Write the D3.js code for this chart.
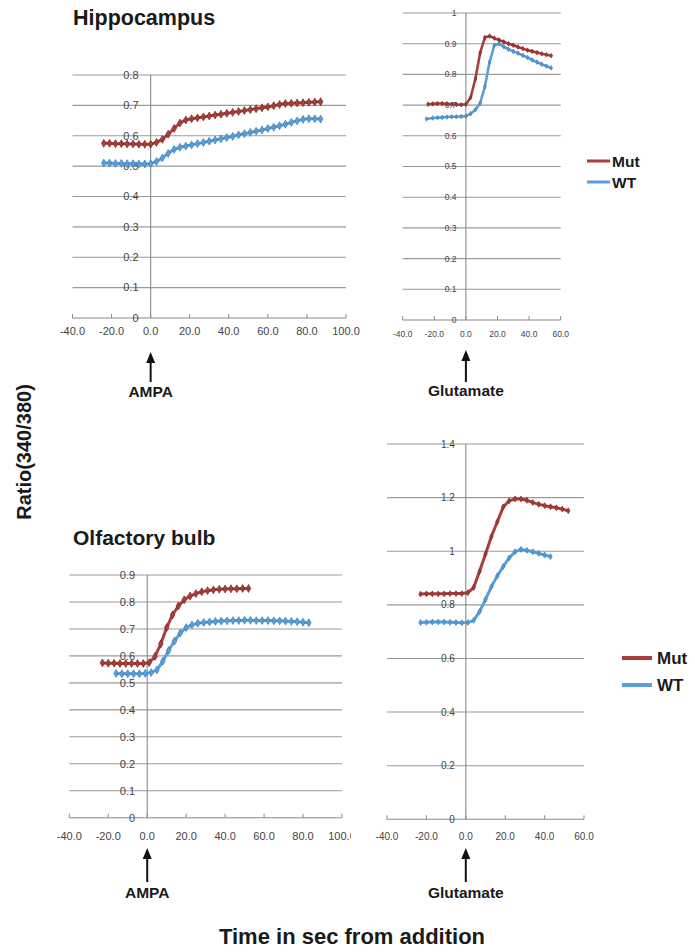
<!DOCTYPE html>
<html><head><meta charset="utf-8">
<script src="https://cdn.jsdelivr.net/npm/d3@7"></script>
<style>body{margin:0;background:#fff}svg{display:block}text{font-family:"Liberation Sans",Arial,sans-serif}</style>
</head><body>
<svg id="c" width="695" height="952"></svg>
<script>
// ---------- DATA ----------
const seriesNames = ["Mut", "WT"];

// Hippocampus, AMPA
const hippoAmpaMutT = [-24,-21,-18,-15,-12,-9,-6,-3,0,3,6,9,12,15,18,21,24,27,30,33,36,39,42,45,48,51,54,57,60,63,66,69,72,75,78,81,84,87];
const hippoAmpaMut  = [0.575,0.575,0.574,0.574,0.573,0.573,0.572,0.572,0.572,0.578,0.588,0.605,0.624,0.642,0.652,0.656,0.659,0.662,0.665,0.668,0.671,0.674,0.677,0.680,0.683,0.686,0.689,0.692,0.695,0.699,0.703,0.706,0.707,0.708,0.709,0.710,0.711,0.712];
const hippoAmpaWtT  = [-24,-21,-18,-15,-12,-9,-6,-3,0,3,6,9,12,15,18,21,24,27,30,33,36,39,42,45,48,51,54,57,60,63,66,69,72,75,78,81,84,87];
const hippoAmpaWt   = [0.510,0.510,0.509,0.509,0.508,0.508,0.507,0.507,0.508,0.515,0.527,0.542,0.555,0.562,0.566,0.570,0.574,0.578,0.582,0.586,0.590,0.594,0.598,0.603,0.607,0.611,0.615,0.619,0.624,0.628,0.633,0.638,0.644,0.649,0.654,0.656,0.656,0.655];

// Hippocampus, Glutamate
const hippoGluMutT = [-24,-21,-18,-15,-12,-9,-6,-3,0,3,6,9,12,15,18,21,24,27,30,33,36,39,42,45,48,51,54];
const hippoGluMut  = [0.703,0.704,0.705,0.705,0.704,0.703,0.702,0.701,0.703,0.725,0.785,0.870,0.920,0.925,0.918,0.912,0.906,0.900,0.895,0.889,0.884,0.879,0.875,0.871,0.867,0.864,0.861];
const hippoGluWtT  = [-25,-21,-18,-15,-12,-9,-6,-3,0,3,6,9,12,15,18,21,24,27,30,33,36,39,42,45,48,51,54];
const hippoGluWt   = [0.655,0.658,0.659,0.660,0.661,0.662,0.662,0.663,0.664,0.672,0.685,0.706,0.760,0.840,0.895,0.900,0.890,0.882,0.875,0.869,0.862,0.855,0.847,0.840,0.833,0.827,0.821];

// Olfactory bulb, AMPA
const obAmpaMutT = [-23,-20,-17,-14,-11,-8,-5,-2,1,4,7,10,13,16,19,22,25,28,31,34,37,40,43,46,49,52];
const obAmpaMut  = [0.574,0.573,0.573,0.572,0.572,0.572,0.572,0.572,0.575,0.598,0.645,0.705,0.752,0.785,0.808,0.822,0.831,0.838,0.842,0.845,0.847,0.848,0.849,0.849,0.850,0.850];
const obAmpaWtT  = [-16,-13,-10,-7,-4,-1,2,5,8,11,14,17,20,23,26,29,32,35,38,41,44,47,50,53,56,59,62,65,68,71,74,77,80,83];
const obAmpaWt   = [0.535,0.534,0.534,0.534,0.534,0.535,0.538,0.548,0.580,0.620,0.655,0.685,0.705,0.715,0.721,0.724,0.726,0.728,0.729,0.730,0.731,0.731,0.732,0.732,0.731,0.731,0.731,0.730,0.730,0.729,0.728,0.727,0.725,0.723];

// Olfactory bulb, Glutamate
const obGluMutT = [-23,-20,-17,-14,-11,-8,-5,-2,1,4,7,10,13,16,19,22,25,28,31,34,37,40,43,46,49,52];
const obGluMut  = [0.840,0.841,0.841,0.841,0.841,0.842,0.842,0.842,0.845,0.865,0.925,0.990,1.055,1.110,1.165,1.188,1.195,1.195,1.190,1.182,1.175,1.170,1.166,1.162,1.157,1.151];
const obGluWtT  = [-23,-20,-17,-14,-11,-8,-5,-2,1,4,7,10,13,16,19,22,25,28,31,34,37,40,43];
const obGluWt   = [0.734,0.735,0.736,0.736,0.736,0.735,0.734,0.733,0.734,0.742,0.775,0.820,0.868,0.908,0.943,0.975,0.998,1.007,1.003,0.998,0.992,0.986,0.980];

// tick labels
const xTicksAmpa = [-40,-20,0,20,40,60,80,100];
const xTicksGlu  = [-40,-20,0,20,40,60];
const yTicksHippoAmpa = [0,0.1,0.2,0.3,0.4,0.5,0.6,0.7,0.8];
const yTicksHippoGlu  = [0,0.1,0.2,0.3,0.4,0.5,0.6,0.7,0.8,0.9,1];
const yTicksObAmpa    = [0,0.1,0.2,0.3,0.4,0.5,0.6,0.7,0.8,0.9];
const yTicksObGlu     = [0,0.2,0.4,0.6,0.8,1,1.2,1.4];

const titles = ["Hippocampus", "Olfactory bulb"];
const stimuli = ["AMPA", "Glutamate"];
const yTitle = "Ratio(340/380)";
const xTitle = "Time in sec from addition";

// ---------- LAYOUT ----------
const colors = {Mut: "#a83f3b", WT: "#5b9fd8"};
const markerStroke = {Mut: "#7a2623", WT: "#3a7cb8"};
const svg = d3.select("#c");

const panels = [
  {xr:[72.5,346], yr:[318,75], xd:[-40,100], ymax:0.8, xt:xTicksAmpa, yt:yTicksHippoAmpa, fs:11, xlo:13, lw:3, ms:18,
   mut:[hippoAmpaMutT,hippoAmpaMut], wt:[hippoAmpaWtT,hippoAmpaWt], stim:stimuli[0], arrow:[352,382,397]},
  {xr:[402.7,560.7], yr:[320,13], xd:[-40,60], ymax:1, xt:xTicksGlu, yt:yTicksHippoGlu, fs:8.5, xlo:14, lw:2.6, ms:6,
   mut:[hippoGluMutT,hippoGluMut], wt:[hippoGluWtT,hippoGluWt], stim:stimuli[1], arrow:[350,382,396]},
  {xr:[69.3,342], yr:[817.7,575], xd:[-40,100], ymax:0.9, xt:xTicksAmpa, yt:yTicksObAmpa, fs:11, xlo:18, lw:3, ms:18, clip:351,
   mut:[obAmpaMutT,obAmpaMut], wt:[obAmpaWtT,obAmpaWt], stim:stimuli[0], arrow:[848,882,898]},
  {xr:[387,584], yr:[819.3,444], xd:[-40,60], ymax:1.4, xt:xTicksGlu, yt:yTicksObGlu, fs:10, xlo:17, lw:3, ms:10,
   mut:[obGluMutT,obGluMut], wt:[obGluWtT,obGluWt], stim:stimuli[1], arrow:[848,882,898]}
];

panels.forEach((p, i) => {
  const x = d3.scaleLinear().domain(p.xd).range(p.xr);
  const y = d3.scaleLinear().domain([0, p.ymax]).range(p.yr);
  const g = svg.append("g");
  // gridlines
  g.selectAll("line.grid").data(p.yt.filter(v => v > 0)).join("line")
    .attr("x1", x(p.xd[0])).attr("x2", x(p.xd[1]))
    .attr("y1", d => y(d)).attr("y2", d => y(d))
    .attr("stroke", "#9a9a9a").attr("stroke-width", 1.1);
  // x axis line
  g.append("line").attr("x1", x(p.xd[0])).attr("x2", x(p.xd[1]))
    .attr("y1", y(0)).attr("y2", y(0)).attr("stroke", "#8a8a8a").attr("stroke-width", 1.1);
  g.selectAll("line.xt").data(p.xt).join("line")
    .attr("x1", d => x(d)).attr("x2", d => x(d))
    .attr("y1", y(0) - 4).attr("y2", y(0)).attr("stroke", "#8a8a8a");
  // y axis (vertical at x=0)
  g.append("line").attr("x1", x(0)).attr("x2", x(0))
    .attr("y1", y(0)).attr("y2", y(p.ymax)).attr("stroke", "#8a8a8a").attr("stroke-width", 1.1);
  // y tick labels
  g.selectAll("text.yl").data(p.yt).join("text")
    .attr("x", x(0) - p.fs * 1.1).attr("y", d => y(d)).attr("dy", "0.35em")
    .attr("text-anchor", "end").attr("font-size", p.fs).attr("fill", "#444")
    .text(d => String(d));
  // x tick labels
  const xl = g.append("g");
  if (p.clip) {
    const id = "clip" + i;
    svg.append("clipPath").attr("id", id).append("rect")
      .attr("x", 0).attr("y", 0).attr("width", p.clip).attr("height", 952);
    xl.attr("clip-path", `url(#${id})`);
  }
  xl.selectAll("text").data(p.xt).join("text")
    .attr("x", d => x(d)).attr("y", y(0) + p.xlo).attr("dy", "0.35em")
    .attr("text-anchor", "middle").attr("font-size", p.fs).attr("fill", "#444")
    .text(d => d.toFixed(1));
  // series
  const line = d3.line().x(d => x(d[0])).y(d => y(d[1]));
  [["WT", p.wt], ["Mut", p.mut]].forEach(([name, [ts, vs]]) => {
    const pts = ts.map((t, k) => [t, vs[k]]);
    g.append("path").datum(pts).attr("d", line).attr("fill", "none")
      .attr("stroke", colors[name]).attr("stroke-width", p.lw).attr("stroke-linejoin", "round");
    g.selectAll(null).data(pts).join("path")
      .attr("transform", d => `translate(${x(d[0])},${y(d[1])})`)
      .attr("d", d3.symbol(d3.symbolDiamond, p.ms)())
      .attr("fill", colors[name]).attr("stroke", markerStroke[name]).attr("stroke-width", 0.7);
  });
  // stimulus arrow + label
  const ax = x(0);
  const [tip, bot, lab] = p.arrow;
  g.append("line").attr("x1", ax).attr("x2", ax).attr("y1", tip + 8).attr("y2", bot)
    .attr("stroke", "#111").attr("stroke-width", 2);
  g.append("path").attr("d", `M${ax},${tip} L${ax - 4.5},${tip + 11} L${ax + 4.5},${tip + 11} Z`).attr("fill", "#111");
  g.append("text").attr("x", ax).attr("y", lab).attr("text-anchor", "middle")
    .attr("font-size", 15.5).attr("font-weight", "bold").attr("fill", "#1a1a1a").text(p.stim);
});

// titles
svg.append("text").attr("x", 73).attr("y", 25).attr("font-size", 21.5).attr("font-weight", "bold").attr("fill", "#1a1a1a").text(titles[0]);
svg.append("text").attr("x", 73).attr("y", 545).attr("font-size", 21).attr("font-weight", "bold").attr("fill", "#1a1a1a").text(titles[1]);
svg.append("text").attr("transform", "translate(31,452) rotate(-90)").attr("text-anchor", "middle")
  .attr("font-size", 20).attr("font-weight", "bold").attr("fill", "#1a1a1a").text(yTitle);
svg.append("text").attr("x", 352).attr("y", 944).attr("text-anchor", "middle")
  .attr("font-size", 22).attr("font-weight", "bold").attr("fill", "#1a1a1a").text(xTitle);

// legends
const legends = [
  {x1:587, x2:610, tx:612, ys:[161,182], fs:15.5, lw:3},
  {x1:622, x2:652, tx:657, ys:[658,685], fs:17, lw:4}
];
legends.forEach(L => {
  seriesNames.forEach((n, k) => {
    svg.append("line").attr("x1", L.x1).attr("x2", L.x2).attr("y1", L.ys[k]).attr("y2", L.ys[k])
      .attr("stroke", colors[n]).attr("stroke-width", L.lw);
    svg.append("text").attr("x", L.tx).attr("y", L.ys[k]).attr("dy", "0.36em")
      .attr("font-size", L.fs).attr("font-weight", "bold").attr("fill", "#1a1a1a").text(n);
  });
});
</script>
</body></html>
